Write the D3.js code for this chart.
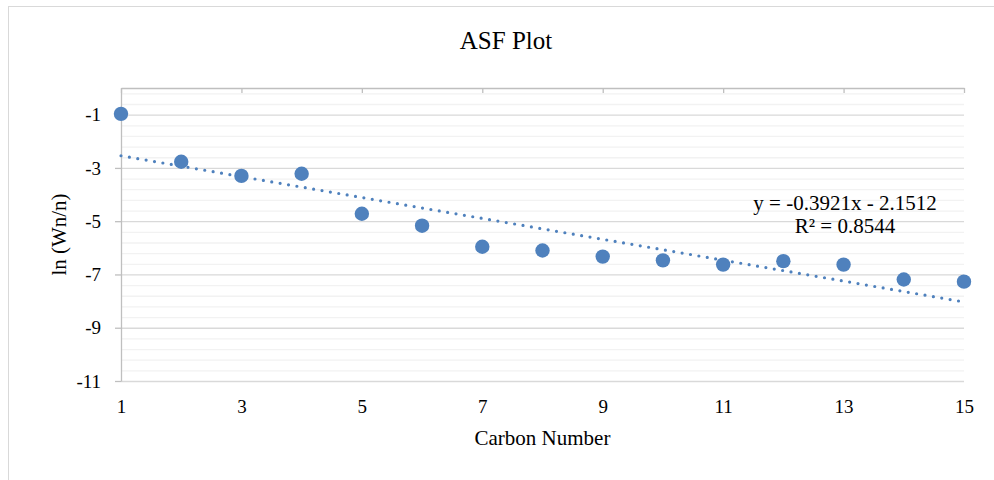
<!DOCTYPE html>
<html>
<head>
<meta charset="utf-8">
<script src="https://cdn.jsdelivr.net/npm/d3@7"></script>
<style>
  html, body { margin: 0; padding: 0; background: #fff; }
  svg { display: block; }
  svg text { font-family: "Liberation Serif", "Times New Roman", Times, "DejaVu Serif", serif !important; fill: #000; }
</style>
</head>
<body>
<svg id="chart" width="994" height="480"></svg>
<script>
// ---- data ----
const carbonNumber = [1, 2, 3, 4, 5, 6, 7, 8, 9, 10, 11, 12, 13, 14, 15];
const lnWnN = [-0.97, -2.77, -3.30, -3.22, -4.72, -5.17, -5.96, -6.10, -6.33, -6.47, -6.63, -6.50, -6.63, -7.19, -7.27];
const trendSlope = -0.3921;
const trendIntercept = -2.1512;
const rSquared = 0.8544;
const xTicks = [1, 3, 5, 7, 9, 11, 13, 15];
const yTicks = [-11, -9, -7, -5, -3, -1];
const titleText = "ASF Plot";
const xTitle = "Carbon Number";
const yTitle = "ln (Wn/n)";

// ---- layout ----
const svg = d3.select("#chart");
const pL = 121, pR = 964, pT = 88, pB = 381;
const blue = "#4f81bd";
const serif = "'Liberation Serif', 'Times New Roman', Times, serif";

const x = d3.scaleLinear().domain([1, 15]).range([pL, pR]);
const y = d3.scaleLinear().domain([-11, 0]).range([pB, pT]);

// outer chart border
svg.append("rect")
  .attr("x", 8.5).attr("y", 6.5).attr("width", 1100).attr("height", 600)
  .attr("fill", "none").attr("stroke", "#d9d9d9").attr("stroke-width", 1);

// minor gridlines (every 0.4)
const minorVals = d3.range(-10.6, -0.05, 0.4).map(v => +v.toFixed(1)).filter(v => !yTicks.includes(v));
svg.append("g")
  .attr("transform", `translate(${pL},0)`)
  .call(d3.axisLeft(y).tickValues(minorVals).tickSize(-(pR - pL)).tickFormat(""))
  .call(g => g.select(".domain").remove())
  .call(g => g.selectAll("line").attr("stroke", "#f2f2f2").attr("stroke-width", 1.3));

// major gridlines
svg.append("g")
  .attr("transform", `translate(${pL},0)`)
  .call(d3.axisLeft(y).tickValues(yTicks).tickSize(-(pR - pL)).tickFormat(""))
  .call(g => g.select(".domain").remove())
  .call(g => g.selectAll("line").attr("stroke", "#d9d9d9").attr("stroke-width", 1.3));

// y axis (line + outside ticks + labels)
svg.append("g")
  .attr("transform", `translate(${pL},0)`)
  .attr("font-family", serif)
  .call(d3.axisLeft(y).tickValues(yTicks).tickSize(6).tickPadding(14).tickSizeOuter(0).tickFormat(d => String(d)))
  .attr("font-family", serif)
  .call(g => g.select(".domain").attr("stroke", "#bfbfbf").attr("stroke-width", 1.3))
  .call(g => g.selectAll("line").attr("stroke", "#bfbfbf").attr("stroke-width", 1.3))
  .call(g => g.selectAll("text").attr("font-size", 19).attr("fill", "#000"));

// x axis line at top (crosses at y = 0), ticks pointing into plot
svg.append("g")
  .attr("transform", `translate(0,${pT})`)
  .call(d3.axisBottom(x).tickValues(xTicks).tickSize(5).tickSizeOuter(0).tickFormat(""))
  .call(g => g.select(".domain").attr("stroke", "#bfbfbf").attr("stroke-width", 1.6))
  .call(g => g.selectAll("line").attr("stroke", "#bfbfbf").attr("stroke-width", 1.3));

// x tick labels (low position)
svg.append("g")
  .attr("transform", `translate(0,${pB})`)
  .call(d3.axisBottom(x).tickValues(xTicks).tickSize(0).tickPadding(18.5).tickFormat(d => String(d)))
  .attr("font-family", serif)
  .call(g => g.select(".domain").remove())
  .call(g => g.selectAll("text").attr("font-size", 19).attr("fill", "#000"));

// trendline (linear, from the fitted equation)
const trendPts = [carbonNumber[0], carbonNumber[carbonNumber.length - 1]].map(c => [c, trendSlope * c + trendIntercept]);
svg.append("path")
  .datum(trendPts)
  .attr("d", d3.line().x(d => x(d[0])).y(d => y(d[1])))
  .attr("fill", "none")
  .attr("stroke", blue)
  .attr("stroke-width", 3.2)
  .attr("stroke-linecap", "round")
  .attr("stroke-dasharray", "0 8.5");

// markers
svg.append("g")
  .selectAll("circle")
  .data(carbonNumber.map((c, i) => [c, lnWnN[i]]))
  .join("circle")
  .attr("cx", d => x(d[0]))
  .attr("cy", d => y(d[1]))
  .attr("r", 7.2)
  .attr("fill", blue);

// equation label
const eq = svg.append("text")
  .attr("text-anchor", "middle")
  .attr("font-family", serif)
  .attr("font-size", 21);
eq.append("tspan").attr("x", 845).attr("y", 210)
  .text(`y = ${trendSlope}x - ${Math.abs(trendIntercept)}`);
eq.append("tspan").attr("x", 845).attr("y", 233)
  .text(`R² = ${rSquared}`);

// titles
svg.append("text")
  .attr("x", 506).attr("y", 49)
  .attr("text-anchor", "middle")
  .attr("font-family", serif)
  .attr("font-size", 25)
  .text(titleText);

svg.append("text")
  .attr("x", (pL + pR) / 2).attr("y", 445)
  .attr("text-anchor", "middle")
  .attr("font-family", serif)
  .attr("font-size", 21)
  .text(xTitle);

svg.append("text")
  .attr("transform", `translate(66,${(pT + pB) / 2}) rotate(-90)`)
  .attr("text-anchor", "middle")
  .attr("font-family", serif)
  .attr("font-size", 21)
  .text(yTitle);
</script>
</body>
</html>
